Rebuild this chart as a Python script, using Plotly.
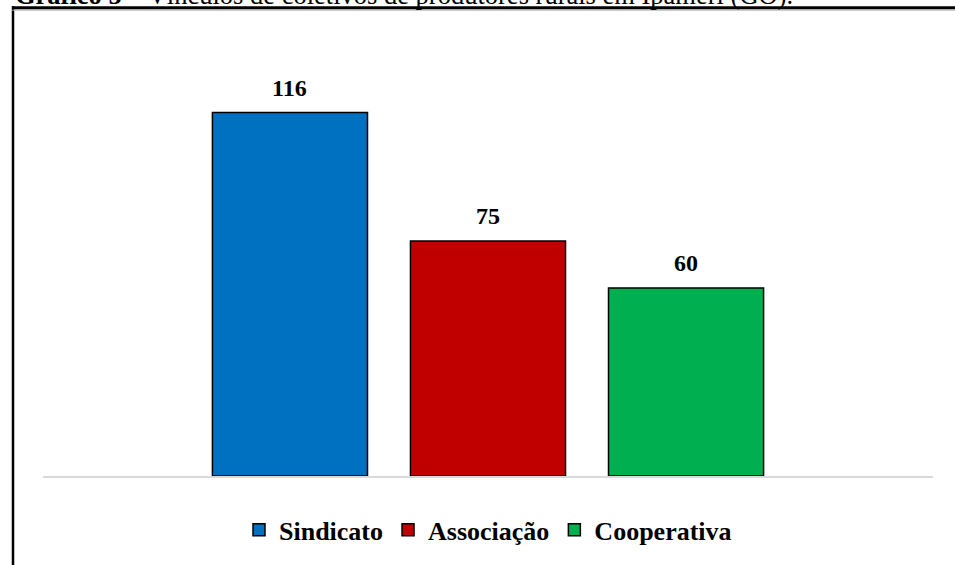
import plotly.graph_objects as go

categories = ["Sindicato", "Associação", "Cooperativa"]
values = [116, 75, 60]
colors = ["#0070C0", "#C00000", "#00B050"]
title_text = "<b>Gráfico 5</b> – Vínculos de coletivos de produtores rurais em Ipameri (GO)."

FONT = "Liberation Serif, Times New Roman, serif"

fig = go.Figure()
for i, (cat, val, col) in enumerate(zip(categories, values, colors)):
    fig.add_trace(go.Bar(
        x=[i], y=[val], name=cat, width=0.783,
        marker=dict(color=col, line=dict(color="black", width=1.5)),
        hoverinfo="skip",
    ))
    fig.add_annotation(
        x=i, y=val, text=f"<b>{val}</b>", showarrow=False,
        yanchor="middle", yshift=25,
        font=dict(family=FONT, size=24, color="black"),
    )

# partially cropped caption above the frame
fig.add_annotation(
    xref="paper", yref="paper", x=(13 - 43) / 890, y=(478 - 12) / 438,
    xanchor="left", yanchor="bottom", text=title_text, showarrow=False,
    font=dict(family=FONT, size=26.5, color="black"),
)

# frame lines (left and top)
fig.add_shape(type="line", xref="paper", yref="paper",
              x0=(13 - 43) / 890, x1=(13 - 43) / 890,
              y0=(478 - 6) / 438, y1=(478 - 600) / 438,
              line=dict(color="black", width=2.5))
fig.add_shape(type="line", xref="paper", yref="paper",
              x0=(12 - 43) / 890, x1=(1000 - 43) / 890,
              y0=(478 - 10) / 438, y1=(478 - 10) / 438,
              line=dict(color="#b0b0b0", width=1))
fig.add_shape(type="line", xref="paper", yref="paper",
              x0=(12 - 43) / 890, x1=(1000 - 43) / 890,
              y0=(478 - 7.5) / 438, y1=(478 - 7.5) / 438,
              line=dict(color="black", width=3))

fig.update_layout(
    width=955, height=565,
    margin=dict(l=43, r=22, t=40, b=87),
    paper_bgcolor="white", plot_bgcolor="white",
    showlegend=True,
    legend=dict(
        orientation="h", x=0.5, xanchor="center",
        y=(478 - 532) / 438, yanchor="middle",
        font=dict(family=FONT, size=26, color="black", weight="bold"),
        itemwidth=30, tracegroupgap=0,
    ),
    xaxis=dict(range=[-1.247, 3.247], showticklabels=False, ticks="",
               showgrid=False, zeroline=False, showline=True,
               linecolor="#d9d9d9", linewidth=1.5, fixedrange=True),
    yaxis=dict(range=[0, 438 / 3.147], visible=False, showgrid=False,
               zeroline=False, fixedrange=True),
)

fig.write_html("out.html", post_script="document.body.style.margin='0';",
               config={"displayModeBar": False})
